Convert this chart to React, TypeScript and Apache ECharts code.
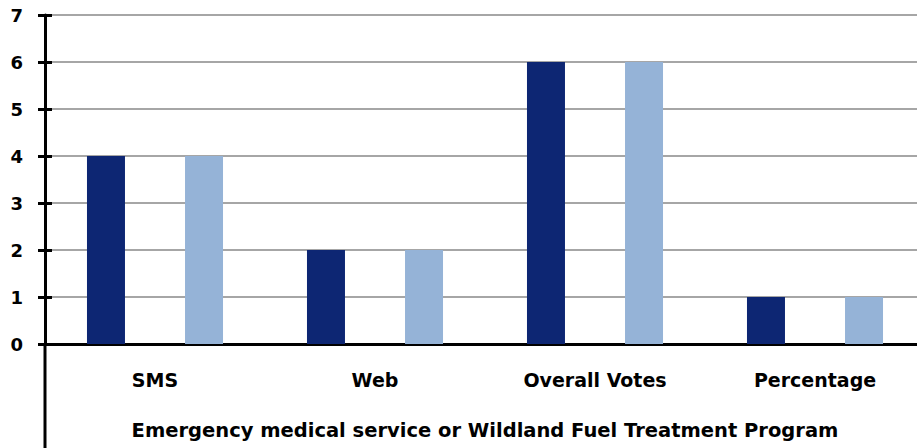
import React, { useEffect, useRef } from "react";
import * as echarts from "echarts";

const categories = ["SMS", "Web", "Overall Votes", "Percentage"];
const seriesA = [4, 2, 6, 1];
const seriesB = [4, 2, 6, 1];
const axisTitle = "Emergency medical service or Wildland Fuel Treatment Program";

export default function App() {
  const ref = useRef<HTMLDivElement>(null);
  useEffect(() => {
    if (!ref.current) return;
    const chart = echarts.init(ref.current, null, { renderer: "svg" });
    const font = "'DejaVu Sans', sans-serif";
    const yBase = {
      type: "value",
      min: 0,
      max: 7,
      interval: 1,
    };
    chart.setOption({
      animation: false,
      grid: { left: 45, right: 0, top: 15, bottom: 104, containLabel: false },
      xAxis: {
        type: "category",
        data: categories,
        axisTick: { show: false },
        axisLine: { lineStyle: { color: "#000", width: 3 } },
        axisLabel: {
          color: "#000",
          fontFamily: font,
          fontWeight: "bold",
          fontSize: 19,
          margin: 26,
        },
        name: axisTitle,
        nameLocation: "middle",
        nameGap: 76,
        nameTextStyle: {
          color: "#000",
          fontFamily: font,
          fontWeight: "bold",
          fontSize: 19.5,
        },
      },
      yAxis: [
        {
          ...yBase,
          axisLine: { show: true, lineStyle: { color: "#000", width: 3 } },
          axisTick: { show: true, length: 7, lineStyle: { color: "#000", width: 3 } },
          splitLine: { show: true, lineStyle: { color: "#A6A6A6", width: 2 } },
          axisLabel: {
            color: "#000",
            fontFamily: font,
            fontWeight: "bold",
            fontSize: 18,
            margin: 22,
          },
        },
        {
          ...yBase,
          position: "left",
          axisLine: { show: false },
          axisTick: { show: true, inside: true, length: 7, lineStyle: { color: "#000", width: 3 } },
          splitLine: { show: false },
          axisLabel: { show: false },
        },
      ],
      series: [
        {
          type: "bar",
          data: seriesA,
          itemStyle: { color: "#0D2673" },
          barWidth: 38,
          barGap: "158%",
          z: 1,
        },
        {
          type: "bar",
          data: seriesB,
          itemStyle: { color: "#95B3D7" },
          barWidth: 38,
          barGap: "158%",
          z: 1,
        },
      ],
      graphic: [
        {
          type: "line",
          shape: { x1: 45, y1: 344, x2: 45, y2: 448 },
          style: { stroke: "#000", lineWidth: 3 },
        },
      ],
    });
    return () => chart.dispose();
  }, []);
  return (
    <div
      style={{
        position: "absolute",
        left: 0,
        top: 0,
        width: 917,
        height: 448,
        overflow: "hidden",
      }}
    >
      <div ref={ref} style={{ width: 925, height: 448 }} />
    </div>
  );
}
